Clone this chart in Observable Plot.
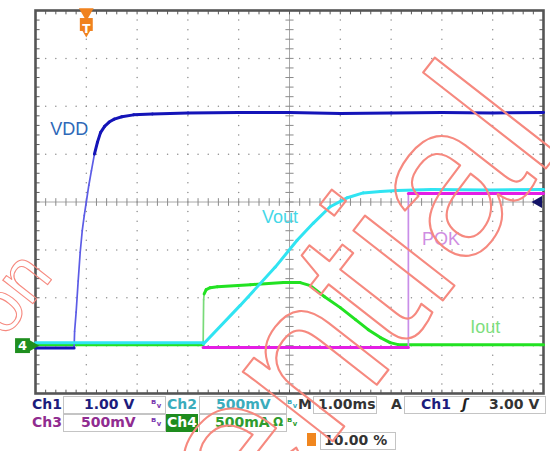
<!DOCTYPE html>
<html><head><meta charset="utf-8">
<script src="https://cdn.jsdelivr.net/npm/d3@7"></script>
<script src="https://cdn.jsdelivr.net/npm/@observablehq/plot@0.6"></script>
<style>
body{margin:0;background:#fff;}
#wrap{position:relative;width:550px;height:451px;overflow:hidden;font-family:"DejaVu Sans",sans-serif;}
#wrap svg{position:absolute;left:0;top:0;}
.s{position:absolute;font-weight:bold;font-size:14px;line-height:17px;white-space:nowrap;}
.bw{position:absolute;font-size:11px;line-height:14px;white-space:nowrap;font-weight:bold;}
.box{position:absolute;border:1px solid #c4c4c4;box-sizing:border-box;}
</style></head><body><div id="wrap"></div>
<script>
// ---- data (time in ms, values in channel units) ----
const vddT = [-1.0,-0.24,-0.23,-0.2,-0.16,-0.12,-0.08,-0.04,0,0.05,0.1,0.16,0.22,0.28,0.36,0.45,0.55,0.7,0.93,1.3,2.0,3.0,4.0,5.0,6.0,7.0,8.0,9.0];
const vddV = [-0.05,-0.05,0.3,0.7,1.35,1.95,2.4,2.72,3.0,3.35,3.65,4.0,4.25,4.45,4.58,4.67,4.73,4.78,4.82,4.84,4.86,4.87,4.87,4.85,4.86,4.87,4.86,4.87];
const voutT = [-1.0,2.30,2.31,3.03,3.72,4.15,4.47,4.80,5.14,5.45,5.79,6.12,6.8,7.9,9.0];
const voutV = [0.03,0.03,0.02,0.42,0.82,1.10,1.28,1.45,1.545,1.595,1.61,1.62,1.63,1.625,1.63];
const pokT = [2.30,6.34,6.34,9.0];
const pokV = [-0.02,-0.02,1.59,1.59];
const ioutT = [-1.0,2.30,2.31,2.32,2.36,2.44,2.58,3.23,3.88,4.21,4.41,4.69,5.00,5.30,5.55,5.79,5.98,6.14,9.0];
const ioutV = [0.01,0.01,0.48,0.54,0.585,0.605,0.615,0.637,0.658,0.658,0.626,0.511,0.397,0.271,0.167,0.084,0.031,0.01,0.01];

// channel settings (units per division) and readouts
const chNames = ["Ch1","Ch2","Ch3","Ch4"];
const chScales = [1.0, 0.5, 0.5, 0.5];
const chReadouts = ["1.00 V","500mV","500mV","500mA"];
const timebase = "1.00ms";
const trigChannel = "Ch1";
const trigLevel = 3.0;
const trigLevelText = "3.00 V";
const trigPosText = "10.00 %";
const groundDiv = -3;
const traceLabels = ["VDD","Vout","POK","Iout"];

// ---- helpers ----
function segs(ts, vs, scale) {
  const out = [];
  for (let i = 0; i < ts.length - 1; i++) {
    const y1 = groundDiv + vs[i] / scale, y2 = groundDiv + vs[i + 1] / scale;
    const dt = Math.abs(ts[i + 1] - ts[i]);
    const slope = Math.abs(y2 - y1) / Math.max(dt, 1e-6);
    out.push({x1: ts[i], x2: ts[i + 1], y1, y2, fast: slope > 5});
  }
  return out;
}
function traceMarks(s, color, fastColor) {
  return [
    Plot.link(s.filter(d => d.fast), {x1: "x1", y1: "y1", x2: "x2", y2: "y2", stroke: fastColor, strokeWidth: 1.7, strokeLinecap: "round"}),
    Plot.link(s.filter(d => !d.fast), {x1: "x1", y1: "y1", x2: "x2", y2: "y2", stroke: color, strokeWidth: 3, strokeLinecap: "round", strokeLinejoin: "round"})
  ];
}

const xMin = -1, xMax = 9, yMin = -4, yMax = 4;
const xMinor = d3.range(xMin, xMax + 1e-9, 0.2);
const yMinor = d3.range(yMin, yMax + 1e-9, 0.2);
const center = (xMin + xMax) / 2;
const gridDots = [];
for (let gx = xMin + 1; gx < xMax; gx++) if (gx !== center) for (const y of yMinor) gridDots.push({x: gx, y});
for (let gy = yMin + 1; gy < yMax; gy++) if (gy !== 0) for (const x of xMinor) gridDots.push({x, y: gy});

const tk = 0.08;
const borderTicks = [
  ...yMinor.map(y => ({x1: xMin, x2: xMin + tk, y1: y, y2: y})),
  ...yMinor.map(y => ({x1: xMax - tk, x2: xMax, y1: y, y2: y})),
  ...xMinor.map(x => ({x1: x, x2: x, y1: yMax, y2: yMax - tk})),
  ...xMinor.map(x => ({x1: x, x2: x, y1: yMin, y2: yMin + tk}))
];
const centerTicks = [
  ...yMinor.map(y => ({x1: center - tk, x2: center + tk, y1: y, y2: y})),
  ...xMinor.map(x => ({x1: x, x2: x, y1: -tk, y2: tk}))
];

const labelFont = "Liberation Sans, Arial, sans-serif";
const wmColor = "#f6897f";
const chart = Plot.plot({
  width: 550, height: 451,
  marginLeft: 35, marginRight: 7, marginTop: 10, marginBottom: 58,
  style: {background: "transparent", overflow: "visible"},
  x: {domain: [xMin, xMax], axis: null},
  y: {domain: [yMin, yMax], axis: null},
  marks: [
    Plot.dot(gridDots, {x: "x", y: "y", r: 0.75, fill: "#8e8e8e"}),
    Plot.ruleX([center], {stroke: "#a8a8a8", strokeWidth: 1}),
    Plot.ruleY([0], {stroke: "#a8a8a8", strokeWidth: 1}),
    Plot.link(centerTicks, {x1: "x1", y1: "y1", x2: "x2", y2: "y2", stroke: "#8a8a8a", strokeWidth: 1}),
    Plot.link(borderTicks, {x1: "x1", y1: "y1", x2: "x2", y2: "y2", stroke: "#5a5a5a", strokeWidth: 1}),
    Plot.frame({stroke: "#555", strokeWidth: 2.6}),
    ...traceMarks(segs(ioutT, ioutV, chScales[3]), "#22e222", "#78da78"),
    ...traceMarks(segs(pokT, pokV, chScales[2]), "#e41ee4", "#c98ee8"),
    ...traceMarks(segs(vddT, vddV, chScales[0]), "#1414b8", "#5c5ce6"),
    ...traceMarks(segs(voutT, voutV, chScales[1]), "#30e4f2", "#30e4f2"),
    // trace labels
    Plot.text([traceLabels[0]], {x: () => -0.71, y: () => 1.52, text: d => d, fill: "#2d68b8", fontSize: 18, fontFamily: labelFont, textAnchor: "start"}),
    Plot.text([traceLabels[1]], {x: () => 3.46, y: () => -0.31, text: d => d, fill: "#44d8e8", fontSize: 18, fontFamily: labelFont, textAnchor: "start"}),
    Plot.text([traceLabels[2]], {x: () => 6.61, y: () => -0.77, text: d => d, fill: "#cf8ee2", fontSize: 18, fontFamily: labelFont, textAnchor: "start"}),
    Plot.text([traceLabels[3]], {x: () => 7.56, y: () => -2.61, text: d => d, fill: "#7ede7e", fontSize: 18, fontFamily: labelFont, textAnchor: "start"}),
    // ground marker for Ch4
    Plot.dot([0], {x: () => xMin, y: () => groundDiv, dx: -4, symbol: "triangle", rotate: 90, r: 5, fill: "#1f8f1f"}),
    Plot.dot([0], {x: () => xMin, y: () => groundDiv, dx: -13, symbol: "square", r: 8.4, fill: "#1f8f1f"}),
    Plot.text(["4"], {x: () => xMin, y: () => groundDiv, dx: -13, text: d => d, fill: "white", fontSize: 13, fontWeight: "bold", fontFamily: "DejaVu Sans"}),
    // trigger level marker (right edge)
    Plot.dot([0], {x: () => xMax, y: () => groundDiv + trigLevel / chScales[0], dx: -5, symbol: "triangle", rotate: -90, r: 4.5, fill: "#121266"}),
    // trigger position marker (top)
    Plot.dot([0], {x: () => 0, frameAnchor: "top", dy: 2, symbol: "triangle", rotate: 180, r: 5.5, fill: "#f0821e"}),
    Plot.dot([0], {x: () => 0, frameAnchor: "top", dy: 14, symbol: "square", r: 7.3, fill: "#f0821e"}),
    Plot.dot([0], {x: () => 0, frameAnchor: "top", dy: 20, symbol: "triangle", rotate: 180, r: 4.5, fill: "#f0821e"}),
    Plot.text(["T"], {x: () => 0, frameAnchor: "top", dy: 14, text: d => d, fill: "white", fontSize: 12, fontWeight: "bold", fontFamily: "DejaVu Sans"}),
    // watermark
    Plot.text(["Confidential"], {x: () => 9.45, y: () => 1.25, text: d => d, rotate: -52, fontSize: 215, fontFamily: labelFont, textAnchor: "end", lineAnchor: "bottom", fill: "none", stroke: wmColor, strokeWidth: 2.1, strokeLinejoin: "round"}),
    Plot.text(["on"], {x: () => -0.63, y: () => -1.545, text: d => d, rotate: -52, fontSize: 72, fontFamily: labelFont, textAnchor: "end", lineAnchor: "bottom", fill: "none", stroke: wmColor, strokeWidth: 1.1})
  ]
});

const wrap = document.getElementById("wrap");

// status bar (HTML below the graticule)
function el(cls, left, top, text, css) {
  const d = document.createElement("div");
  d.className = cls;
  d.style.left = left + "px";
  d.style.top = top + "px";
  if (text != null) d.textContent = text;
  if (css) Object.assign(d.style, css);
  wrap.appendChild(d);
  return d;
}
function box(left, top, w, h, css) {
  const d = el("box", left, top, null, css);
  d.style.width = w + "px"; d.style.height = h + "px";
  return d;
}
const navy = "#1c1c7c", teal = "#3aacbc", purple = "#902c90", green = "#2e9c2e";
const r1 = 396, r2 = 414, r3 = 432;
box(63, r1, 103, 18); box(63, r2, 103, 18);
box(199, r1, 88, 18); box(199, r2, 88, 18);
box(313, r1, 64, 18); box(404, r1, 142, 18);
box(320, r3, 76, 18);
box(166, r2, 32, 18, {background: "#1e8c1e", borderColor: "#1e8c1e"});
el("s", 32, r1, chNames[0], {color: navy});
el("s", 84, r1, chReadouts[0], {color: navy});
el("bw", 151, r1 + 2, "ᴮᵥ", {color: "#7a3ab0"});
el("s", 167, r1, chNames[1], {color: teal});
el("s", 216, r1, chReadouts[1], {color: teal});
el("bw", 287, r1 + 2, "ᴮᵥ", {color: teal});
el("s", 298, r1, "M", {color: "#333"});
el("s", 318, r1, timebase, {color: "#333"});
el("s", 391, r1, "A", {color: "#333"});
el("s", 421, r1, trigChannel, {color: navy});
el("s", 462, r1, "ʃ", {color: "#222", fontStyle: "italic"});
el("s", 489, r1, trigLevelText, {color: "#333"});
el("s", 32, r2, chNames[2], {color: purple});
el("s", 81, r2, chReadouts[2], {color: purple});
el("bw", 151, r2 + 2, "ᴮᵥ", {color: "#7a3ab0"});
el("s", 167, r2, chNames[3], {color: "#ffffff"});
el("s", 215, r2, chReadouts[3], {color: green});
el("s", 273, r2, "Ω", {color: green, fontSize: "12px"});
el("bw", 287, r2 + 2, "ᴮᵥ", {color: green});
el("s", 307, r3 + 1, "", {background: "#f0861f", width: "9px", height: "13px"});
el("s", 324, r3, trigPosText, {color: "#333"});

wrap.appendChild(chart);
</script>
</body></html>
